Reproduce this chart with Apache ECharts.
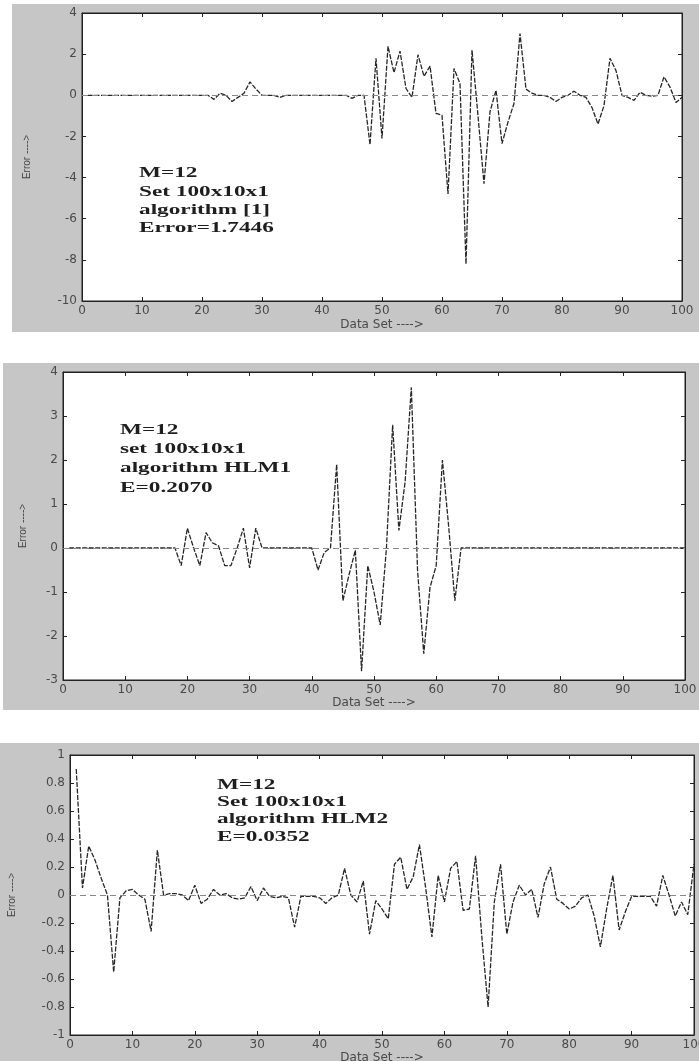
<!DOCTYPE html>
<html><head><meta charset="utf-8">
<script src="https://cdn.jsdelivr.net/npm/echarts@6/dist/echarts.min.js"></script>
<style>html,body{margin:0;padding:0;background:#fff}#c{width:699px;height:1061px}</style>
</head><body><div id="c"></div><script>
// x positions (data set index 1..100)
const dataSetIdx = Array.from({length: 100}, (_, i) => i + 1);

// Panel 1: algorithm [1]
const errAlg1 = [
  0,0,0,0,0,0,0,0,0,0,
  0,0,0,0,0,0,0,0,0,0,
  0,-0.2,0.1,0,-0.3,-0.1,0.1,0.65,0.3,0,
  0,0,-0.1,0,0,0,0,0,0,0,
  0,0,0,0,-0.15,0,0,-2.4,1.8,-2.1,
  2.38,1.1,2.15,0.33,-0.1,1.97,0.92,1.42,-0.88,-0.97,
  -4.8,1.3,0.57,-8.2,2.2,-1.0,-4.3,-0.8,0.24,-2.35,
  -1.3,-0.4,3.0,0.3,0.1,0,0,-0.1,-0.3,-0.1,
  0,0.2,0,-0.1,-0.6,-1.4,-0.5,1.8,1.2,0,
  -0.1,-0.25,0.15,0,-0.05,0,0.9,0.4,-0.35,-0.1
];
// Panel 2: algorithm HLM1
const errHLM1 = [
  0,0,0,0,0,0,0,0,0,0,
  0,0,0,0,0,0,0,0,-0.4,0.45,
  0,-0.4,0.35,0.12,0.05,-0.4,-0.4,0,0.45,-0.45,
  0.45,0,0,0,0,0,0,0,0,0,
  -0.5,-0.1,0,1.9,-1.2,-0.6,-0.05,-2.8,-0.4,-1.0,
  -1.75,0,2.8,0.4,1.5,3.65,-0.5,-2.4,-0.9,-0.4,
  2.0,0.5,-1.2,0,0,0,0,0,0,0,
  0,0,0,0,0,0,0,0,0,0,
  0,0,0,0,0,0,0,0,0,0,
  0,0,0,0,0,0,0,0,0,0
];
// Panel 3: algorithm HLM2
const errHLM2 = [
  0.9,0.05,0.35,0.25,0.12,0,-0.55,-0.02,0.03,0.04,
  0,-0.03,-0.26,0.32,0,0.01,0.01,0,-0.04,0.07,
  -0.06,-0.03,0.04,0,0.01,-0.02,-0.03,-0.02,0.06,-0.04,
  0.05,-0.01,-0.02,-0.01,-0.02,-0.23,-0.01,-0.01,-0.01,-0.02,
  -0.06,-0.02,0,0.19,0,-0.05,0.1,-0.28,-0.04,-0.1,
  -0.17,0.22,0.27,0.04,0.13,0.36,0.05,-0.3,0.14,-0.05,
  0.19,0.24,-0.11,-0.1,0.28,-0.3,-0.8,-0.05,0.22,-0.28,
  -0.05,0.07,0,0.04,-0.16,0.08,0.2,-0.03,-0.06,-0.1,
  -0.08,-0.02,0,-0.15,-0.37,-0.1,0.14,-0.25,-0.12,-0.01,
  -0.01,-0.01,-0.01,-0.08,0.14,0,-0.15,-0.05,-0.14,0.22
];

// axis ranges [min, max, interval]
const xRange = [0, 100, 10];
const yRange1 = [-10, 4, 2];
const yRange2 = [-3, 4, 1];
const yRange3 = [-1, 1, 0.2];

const annot1 = ["M=12", "Set 100x10x1", "algorithm [1]", "Error=1.7446"];
const annot2 = ["M=12", "set 100x10x1", "algorithm HLM1", "E=0.2070"];
const annot3 = ["M=12", "Set 100x10x1", "algorithm HLM2", "E=0.0352"];

const xName = "Data Set ---->";
const yName = "Error ---->";

const panels = [
  {data: errAlg1, y: yRange1, grid: {left: 82, top: 13, width: 600, height: 288},
   yGap: 50, xGap: 18, bg: [12, 4, 687, 328], ann: annot1, annX: 139, annY: [173, 192, 210, 228]},
  {data: errHLM1, y: yRange2, grid: {left: 63, top: 372, width: 622, height: 308},
   yGap: 35, xGap: 17, bg: [3, 363, 696, 347], ann: annot2, annX: 120, annY: [430, 449, 468, 488]},
  {data: errHLM2, y: yRange3, grid: {left: 70, top: 755, width: 624, height: 280},
   yGap: 53, xGap: 15, bg: [0, 743, 699, 318], ann: annot3, annX: 217, annY: [785, 802, 819, 837]}
];

const labelStyle = {fontFamily: 'DejaVu Sans', fontSize: 12, color: '#4a4a4a'};
const lineCol = '#222';

const grids = [], xAxes = [], yAxes = [], series = [], graphics = [];
panels.forEach((p, i) => {
  grids.push(Object.assign({show: true, backgroundColor: '#fff', borderColor: lineCol, borderWidth: 1,
    containLabel: false, outerBoundsMode: 'none'}, p.grid));
  graphics.push({type: 'rect', z: -10, shape: {x: p.bg[0], y: p.bg[1], width: p.bg[2], height: p.bg[3]},
    style: {fill: '#c6c6c6'}});
  p.ann.forEach((t, k) => {
    graphics.push({type: 'text', z: 100, x: p.annX, y: p.annY[k], scaleX: 1.55,
      style: {text: t, fill: '#1e1e1e', font: 'bold 15px "Liberation Serif"', align: 'left', verticalAlign: 'middle'}});
  });
});
panels.forEach((p, i) => {
  xAxes.push({type: 'value', gridIndex: i, min: xRange[0], max: xRange[1], interval: xRange[2], position: 'bottom',
    axisLine: {onZero: false, lineStyle: {color: lineCol}}, axisTick: {inside: true, length: 4, lineStyle: {color: lineCol}},
    axisLabel: Object.assign({margin: 4}, labelStyle), splitLine: {show: false},
    name: xName, nameLocation: 'middle', nameGap: p.xGap, nameTextStyle: labelStyle});
  yAxes.push({type: 'value', gridIndex: i, min: p.y[0], max: p.y[1], interval: p.y[2], position: 'left',
    axisLine: {onZero: false, lineStyle: {color: lineCol}}, axisTick: {inside: true, length: 4, lineStyle: {color: lineCol}},
    axisLabel: Object.assign({margin: 5}, labelStyle), splitLine: {show: false},
    name: yName, nameLocation: 'middle', nameGap: p.yGap, nameTextStyle: {fontFamily: 'Liberation Sans', fontSize: 10, color: '#444'}});
});
panels.forEach((p, i) => {
  xAxes.push({type: 'value', gridIndex: i, min: xRange[0], max: xRange[1], interval: xRange[2], position: 'top',
    axisLine: {onZero: false, lineStyle: {color: lineCol}}, axisTick: {inside: true, length: 4, lineStyle: {color: lineCol}},
    axisLabel: {show: false}, splitLine: {show: false}});
  yAxes.push({type: 'value', gridIndex: i, min: p.y[0], max: p.y[1], interval: p.y[2], position: 'right',
    axisLine: {onZero: false, lineStyle: {color: lineCol}}, axisTick: {inside: true, length: 4, lineStyle: {color: lineCol}},
    axisLabel: {show: false}, splitLine: {show: false}});
});
panels.forEach((p, i) => {
  series.push({type: 'line', xAxisIndex: i, yAxisIndex: i, showSymbol: false, symbol: 'none',
    data: p.data.map((v, k) => [dataSetIdx[k], v]),
    lineStyle: {color: '#262626', width: 1.3, type: [5, 1.5]},
    markLine: {silent: true, symbol: ['none', 'none'], label: {show: false},
      lineStyle: {color: '#888', width: 1, type: [6, 4]}, data: [{yAxis: 0}]}});
});

const chart = echarts.init(document.getElementById('c'));
chart.setOption({animation: false, backgroundColor: '#fff', grid: grids, xAxis: xAxes, yAxis: yAxes,
  series: series, graphic: graphics});
</script></body></html>
